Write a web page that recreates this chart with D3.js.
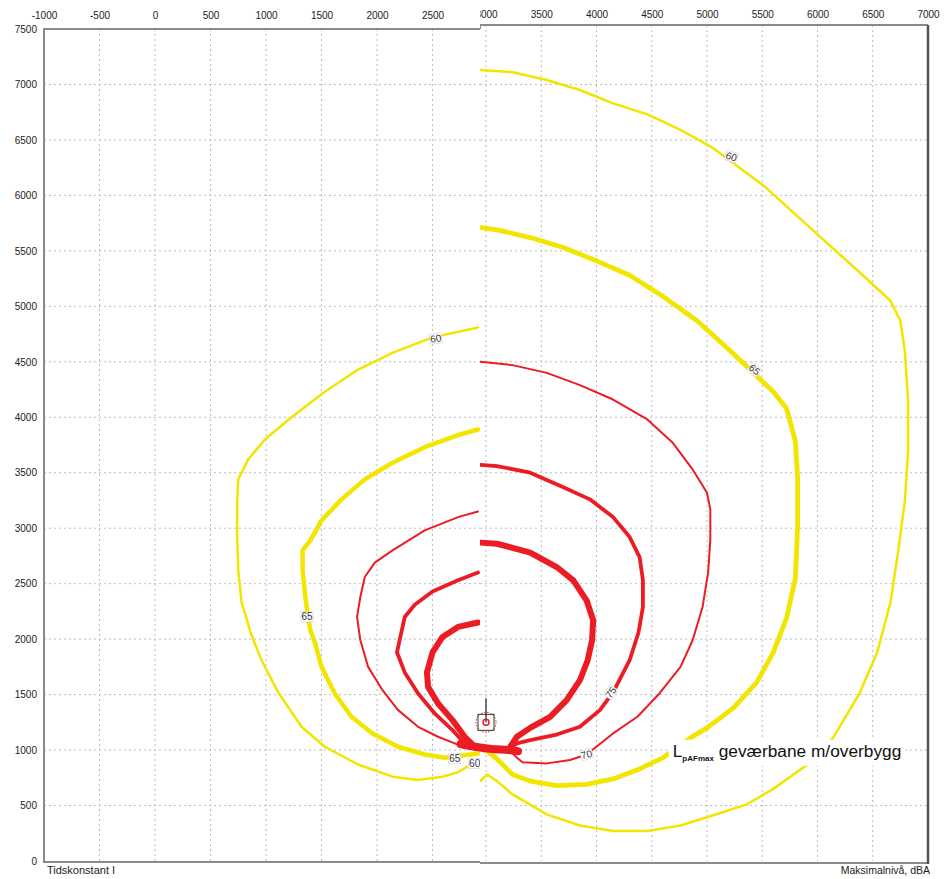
<!DOCTYPE html>
<html>
<head>
<meta charset="utf-8">
<script src="https://cdn.jsdelivr.net/npm/d3@7"></script>
<style>
  body { margin: 0; background: #fff; }
  text { font-family: "Liberation Sans Narrow", "Liberation Sans", Arial, sans-serif; }
</style>
</head>
<body>
<svg id="chart" width="944" height="879"></svg>
<script>
// ---- tick values (metres) ----
const xTicksLeft  = [-1000, -500, 0, 500, 1000, 1500, 2000, 2500];
const xTicksRight = [3000, 3500, 4000, 4500, 5000, 5500, 6000, 6500, 7000];
const yTicks      = [0, 500, 1000, 1500, 2000, 2500, 3000, 3500, 4000, 4500, 5000, 5500, 6000, 6500, 7000, 7500];

// ---- noise contours, left half (x, y in metres) ----
const left60 = [[2910,4810],[2500,4720],[2140,4580],[1830,4430],[1530,4230],[1230,4000],[990,3800],[840,3620],[750,3440],[740,3230],[740,2920],[750,2620],[780,2330],[830,2170],[860,2060],[960,1810],[1110,1520],[1320,1210],[1530,1030],[1830,870],[2140,760],[2370,730],[2590,760],[2730,800],[2810,850]];
const left65 = [[2910,3890],[2730,3840],[2430,3730],[2140,3590],[1890,3440],[1680,3260],[1500,3070],[1400,2890],[1330,2800],[1330,2620],[1350,2420],[1370,2260],[1400,2080],[1440,1970],[1500,1750],[1620,1510],[1770,1300],[1960,1150],[2190,1030],[2430,960],[2610,930],[2910,970]];
const left70 = [[2910,3150],[2730,3100],[2430,2980],[2140,2800],[1980,2690],[1890,2560],[1850,2380],[1820,2200],[1850,1990],[1920,1750],[2050,1540],[2190,1360],[2370,1210],[2550,1120],[2700,1060],[2790,1020],[2910,1000]];
const left75 = [[2910,2600],[2730,2530],[2500,2430],[2340,2310],[2250,2200],[2180,1880],[2250,1700],[2370,1510],[2520,1330],[2680,1180],[2790,1060],[2910,1020]];
const left80 = [[2910,2150],[2730,2110],[2590,2020],[2500,1880],[2450,1700],[2460,1570],[2550,1420],[2680,1270],[2790,1120],[2880,1030],[2910,1020]];

// ---- noise contours, right half ----
const right60 = [[2950,7130],[3240,7110],[3550,7040],[3850,6950],[4150,6830],[4460,6730],[4760,6590],[5050,6430],[5510,6090],[5810,5820],[6110,5550],[6410,5280],[6660,5050],[6750,4870],[6790,4600],[6820,4140],[6820,3690],[6790,3240],[6730,2790],[6660,2330],[6540,1880],[6380,1510],[6140,1110],[5910,870],[5600,650],[5360,510],[5050,410],[4760,320],[4460,270],[4150,270],[3850,320],[3550,420],[3240,600],[3100,720],[3010,780],[2950,720]];
const right65 = [[2950,5710],[3100,5690],[3400,5620],[3700,5530],[4000,5410],[4300,5280],[4600,5090],[4910,4870],[5210,4600],[5600,4230],[5720,4080],[5800,3780],[5820,3460],[5820,3010],[5800,2550],[5720,2190],[5600,1880],[5450,1610],[5240,1380],[5000,1200],[4850,1110],[4600,930],[4390,830],[4150,740],[3910,690],[3640,680],[3400,720],[3240,780],[3100,920],[3010,990],[2950,1010]];
const right70 = [[2950,4500],[3240,4470],[3550,4400],[3850,4290],[4150,4160],[4460,3980],[4690,3770],[4870,3530],[5000,3320],[5030,3170],[5030,2890],[5010,2600],[4960,2290],[4870,1990],[4760,1750],[4570,1510],[4370,1300],[4150,1150],[3910,960],[3760,910],[3550,880],[3330,890],[3280,930],[3240,970]];
const right75 = [[2950,3570],[3100,3560],[3400,3500],[3700,3370],[3940,3260],[4150,3100],[4300,2920],[4390,2740],[4420,2530],[4420,2290],[4380,2060],[4300,1810],[4150,1520],[4030,1360],[3850,1210],[3640,1140],[3400,1090],[3280,1060],[3220,1020]];
const right80 = [[2950,2870],[3100,2860],[3400,2780],[3640,2650],[3790,2530],[3910,2350],[3970,2170],[3960,1990],[3920,1810],[3850,1630],[3730,1450],[3580,1300],[3400,1200],[3280,1120],[3220,1030]];

// where all the loud contours meet at the source
const coreLine = [[2770,1055],[2900,1030],[3050,1010],[3200,1000],[3290,990]];
const sourcePoint = [3000, 1250];

// contour value labels: [text, x, y, rotation]
const leftLabels  = [["60", 2530, 4710, -8], ["65", 1370, 2200, 0], ["65", 2700, 920, 0], ["60", 2880, 880, 0]];
const rightLabels = [["60", 5220, 6350, 18], ["65", 5430, 4430, 40], ["70", 3910, 960, -15], ["75", 4130, 1520, -55]];

const YELLOW = "#f2e500", RED = "#ec1c24";
const fmt = d => String(d);

const svg = d3.select("#chart");
const y  = d3.scaleLinear().domain([0, 7500]).range([861, 29]);
const xL = d3.scaleLinear().domain([-1000, 3000]).range([44, 488]);
const xR = d3.scaleLinear().domain([3000, 7000]).range([486, 928]);

const defs = svg.append("defs");
defs.append("clipPath").attr("id", "clipL").append("rect")
  .attr("x", 44).attr("y", 0).attr("width", 436).attr("height", 862);
defs.append("clipPath").attr("id", "clipR").append("rect")
  .attr("x", 480).attr("y", 0).attr("width", 464).attr("height", 879);
defs.append("clipPath").attr("id", "clipRplot").append("rect")
  .attr("x", 480).attr("y", 25).attr("width", 448).attr("height", 838);

function drawPanel(g, x, xTicks, contours, labels, clipPlot, yTop, xMin, xMax) {
  const grid = g.append("g").attr("clip-path", clipPlot)
    .attr("stroke", "#bdbdbd").attr("stroke-width", 1).attr("stroke-dasharray", "2,3");
  grid.selectAll("line.v").data(xTicks.filter(v => x(v) > xMin + 1 && x(v) < xMax - 1))
    .join("line").attr("class", "v")
    .attr("x1", d => x(d)).attr("x2", d => x(d)).attr("y1", yTop).attr("y2", y(0));
  grid.selectAll("line.h").data(yTicks.filter(v => v > 0 && v < 7500))
    .join("line").attr("class", "h")
    .attr("x1", xMin).attr("x2", xMax).attr("y1", d => y(d)).attr("y2", d => y(d));

  const line = d3.line().x(d => x(d[0])).y(d => y(d[1]));
  const cg = g.append("g").attr("clip-path", clipPlot).attr("fill", "none")
    .attr("stroke-linejoin", "round").attr("stroke-linecap", "round");
  cg.selectAll("path").data(contours).join("path")
    .attr("d", d => line(d.pts))
    .attr("stroke", d => d.color)
    .attr("stroke-width", d => d.w);

  const lg = g.append("g");
  const lab = lg.selectAll("g").data(labels).join("g")
    .attr("transform", d => `translate(${x(d[1])},${y(d[2])}) rotate(${d[3]})`);
  lab.append("rect").attr("x", -6).attr("y", -5).attr("width", 12).attr("height", 10)
    .attr("fill", "#fff").attr("stroke", "#cfcfcf").attr("stroke-width", 0.6);
  lab.append("text").attr("text-anchor", "middle").attr("dy", "0.35em")
    .attr("font-size", 10).attr("fill", "#333").text(d => d[0]);
}

// ---- left half ----
const gL = svg.append("g");
drawPanel(gL, xL, xTicksLeft, [
  { pts: left60, color: YELLOW, w: 2.5 },
  { pts: left65, color: YELLOW, w: 4.5 },
  { pts: left70, color: RED, w: 2 },
  { pts: left75, color: RED, w: 3.8 },
  { pts: left80, color: RED, w: 6 }
], leftLabels, "url(#clipL)", 29, 44, 480);

gL.append("g").attr("transform", "translate(0,29)")
  .call(d3.axisTop(xL).tickValues(xTicksLeft).tickSize(0).tickPadding(10).tickFormat(fmt))
  .call(a => a.select(".domain").remove())
  .selectAll("text").attr("font-size", 10).attr("fill", "#222");
gL.append("g").attr("transform", "translate(44,0)")
  .call(d3.axisLeft(y).tickValues(yTicks).tickSize(0).tickPadding(7).tickFormat(fmt))
  .call(a => a.select(".domain").remove())
  .selectAll("text").attr("font-size", 10).attr("fill", "#222");
gL.append("path").attr("fill", "none").attr("stroke", "#8a8a8a").attr("stroke-width", 2)
  .attr("d", `M480,29H44V862H480`);
gL.append("text").attr("x", 47).attr("y", 874).attr("font-size", 11).attr("fill", "#222").text("Tidskonstant I");

// ---- right half ----
const gR = svg.append("g").attr("clip-path", "url(#clipR)");
gR.append("rect").attr("x", 480).attr("y", 0).attr("width", 464).attr("height", 879).attr("fill", "#fff");
drawPanel(gR, xR, xTicksRight, [
  { pts: right60, color: YELLOW, w: 2.5 },
  { pts: right65, color: YELLOW, w: 4.8 },
  { pts: right70, color: RED, w: 2 },
  { pts: right75, color: RED, w: 3.8 },
  { pts: right80, color: RED, w: 6 }
], rightLabels, "url(#clipRplot)", 25, 480, 928);

gR.append("g").attr("transform", "translate(0,25)")
  .call(d3.axisTop(xR).tickValues(xTicksRight).tickSize(0).tickPadding(7).tickFormat(fmt))
  .call(a => a.select(".domain").remove())
  .selectAll("text").attr("font-size", 10).attr("fill", "#222");
gR.append("path").attr("fill", "none").attr("stroke", "#8a8a8a").attr("stroke-width", 2)
  .attr("d", `M480,29V25H928`);
gR.append("path").attr("fill", "none").attr("stroke", "#8a8a8a").attr("stroke-width", 2)
  .attr("d", `M480,863H928`);
gR.append("path").attr("fill", "none").attr("stroke", "#555").attr("stroke-width", 2.5)
  .attr("d", `M928,25V864`);
gR.append("text").attr("x", 930).attr("y", 874).attr("text-anchor", "end")
  .attr("font-size", 10.5).attr("fill", "#222").text("Maksimalnivå, dBA");

// ---- source point and contour core ----
svg.append("path").attr("fill", "none").attr("stroke", RED).attr("stroke-width", 8)
  .attr("stroke-linecap", "round")
  .attr("d", d3.line().x(d => xR(d[0])).y(d => y(d[1])).curve(d3.curveCatmullRom)(coreLine));
const src = svg.append("g").attr("transform", `translate(${xR(sourcePoint[0])},${y(sourcePoint[1])})`);
src.append("circle").attr("r", 10).attr("fill", "none").attr("stroke", RED)
  .attr("stroke-width", 1).attr("stroke-dasharray", "1.5,1.5");
src.append("rect").attr("x", -8).attr("y", -8).attr("width", 16).attr("height", 16)
  .attr("fill", "none").attr("stroke", "#333").attr("stroke-width", 1);
src.append("line").attr("x1", 0).attr("x2", 0).attr("y1", -24).attr("y2", 0)
  .attr("stroke", "#222").attr("stroke-width", 1.2);
src.append("circle").attr("r", 3).attr("fill", "none").attr("stroke", RED).attr("stroke-width", 1.5);

// ---- annotation ----
const ann = svg.append("g").attr("transform", `translate(${xR(4690)},${y(940)})`);
const annBg = ann.append("rect").attr("fill", "#fff");
const annText = ann.append("text").attr("font-family", "'Liberation Sans', Arial, sans-serif")
  .attr("font-size", 17.3).attr("fill", "#111");
annText.append("tspan").text("L");
annText.append("tspan").attr("font-size", 8).attr("font-weight", "bold").attr("dy", 4).text("pAFmax");
annText.append("tspan").attr("dy", -4).text(" geværbane m/overbygg");
const bb = annText.node().getBBox();
annBg.attr("x", bb.x - 4).attr("y", bb.y - 1).attr("width", bb.width + 8).attr("height", bb.height + 4);
</script>
</body>
</html>
